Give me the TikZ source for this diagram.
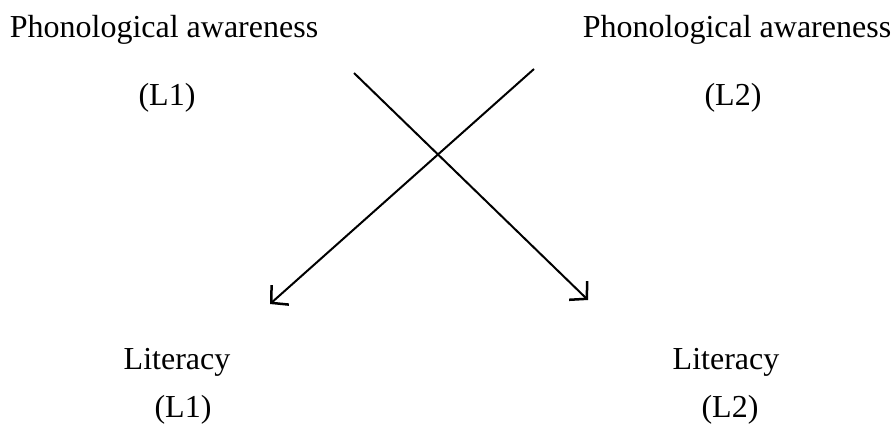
\documentclass[tikz,border=0pt]{standalone}
\usepackage{fontspec}
\setmainfont{Liberation Serif}
\usetikzlibrary{arrows.meta}
\begin{document}
\begin{tikzpicture}[x=1pt,y=-1pt,
  lbl/.style={inner sep=0pt,font=\fontsize{32}{38}\selectfont},
  arr/.style={line width=2pt,-{Straight Barb[length=12pt,width=26pt,line width=2.5pt]}}]
\useasboundingbox (0,0) rectangle (896,434);
\node[lbl] (pa1) at (164,30) {Phonological awareness};
\node[lbl] (pa1l) at (167,98) {(L1)};
\node[lbl] (pa2) at (737,30) {Phonological awareness};
\node[lbl] (pa2l) at (733,98) {(L2)};
\node[lbl] (li1) at (177,362) {Literacy};
\node[lbl] (li1l) at (183,410) {(L1)};
\node[lbl] (li2) at (726,362) {Literacy};
\node[lbl] (li2l) at (730,410) {(L2)};
\coordinate (a1s) at (354,73);
\coordinate (a1e) at (588,300);
\coordinate (a2s) at (534,69);
\coordinate (a2e) at (270,304);
\draw[arr] (a1s) -- (a1e);
\draw[arr] (a2s) -- (a2e);
\end{tikzpicture}
\end{document}
